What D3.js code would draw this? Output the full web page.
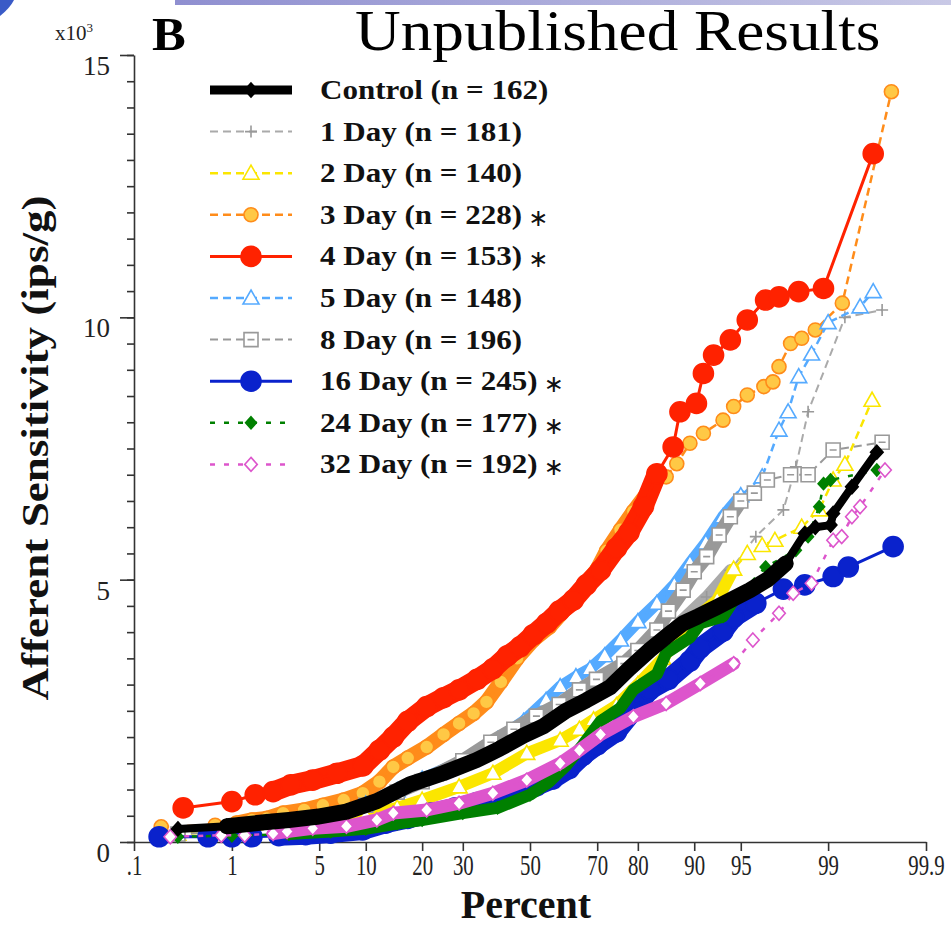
<!DOCTYPE html>
<html>
<head>
<meta charset="utf-8">
<script src="https://d3js.org/d3.v7.min.js"></script>
<style>
  body { margin: 0; background: #fff; }
  svg { display: block; }
</style>
</head>
<body>
<div id="chart"></div>
<script>
// percentile (%) , afferent sensitivity (x10^3 ips/g)
const control = [[0.3,0.25],[0.9,0.3],[2,0.38],[3,0.42],[4.8,0.48],[7.6,0.58],[11.6,0.78],[17.4,1.1],[24.9,1.31],[33.8,1.56],[40.7,1.78],[48,2.03],[54,2.2],[61,2.5],[67,2.7],[73.4,2.95],[78,3.3],[82.5,3.66],[86,3.95],[88.4,4.17],[90.5,4.3],[92.8,4.48],[95.7,4.8],[96.8,5.0],[97.7,5.31],[98.4,5.88],[98.7,6.0],[99.05,6.04],[99.1,6.26],[99.4,6.77],[99.66,7.43]];
const day1 = [[0.3,0.2],[1,0.25],[3,0.35],[6,0.5],[10,0.7],[15,0.95],[20,1.15],[30,1.5],[40,1.85],[50,2.15],[60,2.5],[70,2.9],[78,3.35],[84,3.75],[88,4.2],[91.6,4.67],[94.1,5.18],[96.1,5.82],[97.6,6.33],[98.1,7.15],[98.5,8.2],[99.3,10.0],[99.7,10.14]];
const day2 = [[0.3,0.15],[1,0.2],[3,0.28],[6,0.4],[10,0.5],[15,0.65],[20,0.8],[29,1.05],[38.6,1.31],[49,1.69],[59.3,1.94],[65,2.15],[69,2.33],[75,2.6],[80,3.0],[85,3.5],[89.4,4.17],[92.8,4.61],[94.4,5.2],[95.5,5.5],[96.5,5.65],[97.2,5.75],[98.3,6.0],[98.8,6.33],[99.1,6.9],[99.3,7.2],[99.62,8.42]];
const day3 = [[0.2,0.29],[0.7,0.32],[1.1,0.36],[1.5,0.42],[2.0,0.45],[2.7,0.55],[3.9,0.61],[5.3,0.7],[7.3,0.8],[9.6,0.93],[12,1.15],[14.3,1.43],[17,1.6],[21,1.81],[25,2.05],[29,2.26],[33,2.45],[36.7,2.67],[41,3.05],[46,3.5],[51,3.85],[56,4.1],[61,4.45],[66,4.85],[70,5.2],[72.5,5.55],[76,5.95],[79,6.3],[82,6.65],[85.6,6.96],[87.4,7.21],[89.4,7.6],[91.2,7.79],[93.4,8.04],[94.4,8.3],[95.5,8.52],[96.6,8.68],[97.1,8.77],[97.4,9.06],[97.9,9.5],[98.3,9.6],[98.7,9.76],[99.26,10.27],[99.76,14.3]];
const day4 = [[0.34,0.65],[1.0,0.77],[1.6,0.9],[2.25,0.96],[3.1,1.09],[4.5,1.18],[6.6,1.31],[9.6,1.45],[12,1.75],[14.3,2.0],[17,2.3],[21,2.58],[25,2.75],[29,2.9],[34,3.1],[38.6,3.3],[43,3.55],[46.9,3.72],[51,3.95],[55.2,4.17],[59,4.4],[63.2,4.61],[67,4.9],[70.9,5.18],[75,5.6],[78,5.9],[81.2,6.39],[83.9,7.02],[86.8,7.53],[87.9,8.2],[90.3,8.36],[91.2,8.93],[92.4,9.28],[94.1,9.57],[95.5,9.95],[96.7,10.33],[97.4,10.39],[98.2,10.49],[98.9,10.55],[99.63,13.12]];
const day5 = [[0.3,0.2],[1,0.25],[3,0.35],[6,0.5],[10,0.72],[15,0.98],[20,1.2],[32,1.6],[40,1.95],[48,2.3],[55,2.7],[59.3,2.96],[64,3.15],[68,3.3],[72,3.55],[76,3.85],[80,4.2],[83.9,4.55],[87,4.9],[89.4,5.31],[91.5,5.7],[93.4,6.2],[95,6.6],[96.5,6.96],[97.4,7.85],[97.8,8.2],[98.2,8.87],[98.6,9.3],[99.0,9.9],[99.5,10.2],[99.63,10.49]];
const day8 = [[0.3,0.15],[1,0.2],[3,0.3],[6,0.5],[10,0.7],[15,0.95],[20,1.15],[30,1.55],[38,1.9],[45,2.15],[52,2.4],[59,2.62],[65,2.9],[69.8,3.1],[76.8,3.4],[80,3.65],[83.9,4.04],[86,4.4],[88.4,4.8],[90,5.15],[91.6,5.44],[93,5.85],[94.1,6.2],[95,6.5],[96,6.65],[96.8,6.9],[97.9,7.0],[98.5,7.0],[99.1,7.47],[99.7,7.62]];
const day16 = [[0.19,0.1],[0.6,0.1],[1.0,0.1],[1.5,0.1],[2.5,0.12],[4,0.14],[6,0.17],[9.6,0.23],[13,0.36],[17,0.45],[22,0.55],[28,0.65],[34,0.75],[40,0.85],[46,0.95],[52,1.07],[57,1.2],[62,1.4],[66,1.65],[70,1.85],[75,2.1],[79,2.5],[82.5,2.9],[86,3.1],[89.4,3.45],[90.8,3.7],[93.4,4.02],[94.4,4.28],[96.1,4.55],[97.6,4.82],[98.4,4.9],[99.1,5.06],[99.35,5.24],[99.77,5.63]];
const day24 = [[0.3,0.1],[1,0.12],[3,0.15],[6,0.2],[10,0.25],[15,0.35],[20,0.42],[30,0.55],[40,0.65],[50,0.9],[56,1.15],[61,1.45],[66,1.85],[70.9,2.3],[75.9,2.55],[79,2.9],[83.9,3.2],[85.6,3.6],[89.4,3.9],[90.8,4.17],[93.4,4.3],[94.4,4.61],[96.7,5.24],[98.1,5.56],[98.5,5.82],[98.8,6.39],[98.9,6.83],[99.05,6.9],[99.66,7.09]];
const day32 = [[0.25,0.1],[0.8,0.13],[1.3,0.13],[2.25,0.16],[2.9,0.2],[4.5,0.26],[7.6,0.3],[11.6,0.42],[14.3,0.55],[21,0.61],[29,0.74],[38.6,0.93],[49,1.18],[59.3,1.5],[65,1.75],[70.9,2.05],[79,2.39],[85.6,2.64],[90.8,3.02],[94.4,3.4],[95.9,3.85],[97.4,4.36],[98,4.74],[98.6,4.93],[99.1,5.75],[99.25,5.82],[99.4,6.2],[99.5,6.39],[99.72,7.09]];

const seriesNames = ["Control (n = 162)","1 Day (n = 181)","2 Day (n = 140)","3 Day (n = 228)","4 Day (n = 153)","5 Day (n = 148)","8 Day (n = 196)","16 Day (n = 245)","24 Day (n = 177)","32 Day (n = 192)"];
const significant = [false,false,false,true,true,false,false,true,true,true];
const xTickPct = [0.1,1,5,10,20,30,50,70,80,90,95,99,99.9];
const xTickLabels = [".1","1","5","10","20","30","50","70","80","90","95","99","99.9"];
const yTickValues = [0,5,10,15];

// inverse normal cdf (Acklam) for the probability axis
function probit(p) {
  const a=[-3.969683028665376e+01,2.209460984245205e+02,-2.759285104469687e+02,1.383577518672690e+02,-3.066479806614716e+01,2.506628277459239e+00];
  const b=[-5.447609879822406e+01,1.615858368580409e+02,-1.556989798598866e+02,6.680131188771972e+01,-1.328068155288572e+01];
  const c=[-7.784894002430293e-03,-3.223964580411365e-01,-2.400758277161838e+00,-2.549671299039825e+00,4.374664141464968e+00,2.938163982698783e+00];
  const d=[7.784695709041462e-03,3.224671290700398e-01,2.445134137142996e+00,3.754408661907416e+00];
  const pl = 0.02425;
  if (p < pl) {
    const q = Math.sqrt(-2*Math.log(p));
    return (((((c[0]*q+c[1])*q+c[2])*q+c[3])*q+c[4])*q+c[5])/((((d[0]*q+d[1])*q+d[2])*q+d[3])*q+1);
  }
  if (p > 1-pl) {
    const q = Math.sqrt(-2*Math.log(1-p));
    return -(((((c[0]*q+c[1])*q+c[2])*q+c[3])*q+c[4])*q+c[5])/((((d[0]*q+d[1])*q+d[2])*q+d[3])*q+1);
  }
  const q = p-0.5, r = q*q;
  return (((((a[0]*r+a[1])*r+a[2])*r+a[3])*r+a[4])*r+a[5])*q/(((((b[0]*r+b[1])*r+b[2])*r+b[3])*r+b[4])*r+1);
}

const width = 951, height = 928;
const serif = "'Liberation Serif','Times New Roman',serif";

const svg = d3.select("#chart").append("svg")
  .attr("width", width).attr("height", height);

// top strip + corner of the slide
const grad = svg.append("defs").append("linearGradient").attr("id","strip");
grad.append("stop").attr("offset","0%").attr("stop-color","#8f8fd0");
grad.append("stop").attr("offset","100%").attr("stop-color","#c9c9e6");
svg.append("rect").attr("x",175).attr("y",0).attr("width",776).attr("height",5).attr("fill","url(#strip)");
svg.append("path").attr("d","M0,0H14Q10,8 0,16Z").attr("fill","#3a5bc7");

const x = d3.scaleLinear().domain([probit(0.001), probit(0.999)]).range([134, 926]);
const y = d3.scaleLinear().domain([0, 15]).range([842, 55]);
const px = p => x(probit(p/100));

// axes
const axisColor = "#333";
const gx = svg.append("g").attr("transform","translate(0,842)")
  .call(d3.axisBottom(x)
    .tickValues(xTickPct.map(p => probit(p/100)))
    .tickFormat((d,i) => xTickLabels[i])
    .tickSize(9).tickSizeOuter(0).tickPadding(5));
gx.selectAll("text").attr("font-family", serif).attr("font-size", 26).attr("fill","#222")
  .attr("transform","scale(0.8,1.15)").attr("y", 10);

const gyMinor = svg.append("g").attr("transform","translate(134,0)")
  .call(d3.axisLeft(y).tickValues(d3.range(0, 15.01, 0.5)).tickSize(7).tickFormat(""));
gyMinor.select(".domain").remove();
const gy = svg.append("g").attr("transform","translate(134,0)")
  .call(d3.axisLeft(y).tickValues(yTickValues).tickSize(14).tickSizeOuter(0).tickPadding(10).tickFormat(d3.format("d")));
gy.selectAll("text").attr("font-family", serif).attr("font-size", 27).attr("fill","#222").attr("dy","0.72em");
svg.selectAll(".domain, .tick line").attr("stroke", axisColor).attr("stroke-width", 1.6);

// series styling
const styles = [
  {data: control, color:"#000",    lw:8,   dash:null,  mk:"diamond",  ms:7,  fill:"#000",    mstroke:"#000",    band:16, bandRange:[0.5,98]},
  {data: day1,    color:"#aaaaaa", lw:2,   dash:"8,5", mk:"plus",     ms:6,  fill:"none",    mstroke:"#999",    band:12, bandRange:[2,95]},
  {data: day2,    color:"#fbe600", lw:2.5, dash:"8,5", mk:"triangle", ms:8,  fill:"#fff",    mstroke:"#fbe600", band:12, bandRange:[2,95]},
  {data: day3,    color:"#ff8c1a", lw:2.5, dash:"8,5", mk:"circle",   ms:7,  fill:"#ffc845", mstroke:"#ff8c1a", band:15, bandRange:[1,84]},
  {data: day4,    color:"#ff2200", lw:3,   dash:null,  mk:"circle",   ms:10, fill:"#ff2200", mstroke:"#ff2200", band:20, bandRange:[2,86]},
  {data: day5,    color:"#55aaff", lw:2.5, dash:"8,5", mk:"triangle", ms:8,  fill:"#fff",    mstroke:"#55aaff", band:12, bandRange:[2,95]},
  {data: day8,    color:"#999999", lw:2,   dash:"8,5", mk:"square",   ms:7,  fill:"#fff",    mstroke:"#999",    band:14, bandRange:[2,95]},
  {data: day16,   color:"#0a22cc", lw:3,   dash:null,  mk:"circle",   ms:10, fill:"#0a22cc", mstroke:"#0a22cc", band:20, bandRange:[2,97]},
  {data: day24,   color:"#008000", lw:2.5, dash:"5,9", mk:"diamond",  ms:6,  fill:"#008000", mstroke:"#008000", band:12, bandRange:[2,96]},
  {data: day32,   color:"#dd55cc", lw:2.5, dash:"5,9", mk:"diamond",  ms:7,  fill:"#fff",    mstroke:"#dd55cc", band:13, bandRange:[2,95]}
];

function shape(type, s) {
  if (type === "diamond") return `M0,${-s}L${s*0.9},0L0,${s}L${-s*0.9},0Z`;
  if (type === "triangle") return `M0,${-s}L${s},${s*0.75}L${-s},${s*0.75}Z`;
  if (type === "square") return `M${-s},${-s}H${s}V${s}H${-s}ZM${-s*0.5},0H${s*0.5}`;
  if (type === "plus") return `M${-s},0H${s}M0,${-s}V${s}`;
  return d3.symbol(d3.symbolCircle, Math.PI*s*s)();
}

const line = d3.line().x(d => px(d[0])).y(d => y(d[1]));
const plot = svg.append("g");

function drawSeries(st) {
  const g = plot.append("g");
  const dense = st.data.filter(d => d[0] >= st.bandRange[0] && d[0] <= st.bandRange[1]);
  g.append("path").datum(dense).attr("d", line)
    .attr("fill","none").attr("stroke", st.color).attr("stroke-width", st.band)
    .attr("stroke-linejoin","round").attr("stroke-linecap","round");
  g.append("path").datum(st.data).attr("d", line)
    .attr("fill","none").attr("stroke", st.color).attr("stroke-width", st.lw)
    .attr("stroke-dasharray", st.dash).attr("stroke-linejoin","round");
  g.selectAll("path.mk").data(st.data).join("path").attr("class","mk")
    .attr("transform", d => `translate(${px(d[0])},${y(d[1])})`)
    .attr("d", shape(st.mk, st.ms))
    .attr("fill", st.fill).attr("stroke", st.mstroke).attr("stroke-width", 1.6);
}
// control drawn last, it sits on top of the others
styles.slice(1).forEach(drawSeries);
drawSeries(styles[0]);

// legend
const legend = svg.append("g");
seriesNames.forEach((name, i) => {
  const st = styles[i];
  const ly = 90 + i*41.6;
  legend.append("line").attr("x1",210).attr("x2",292).attr("y1",ly).attr("y2",ly)
    .attr("stroke", st.color).attr("stroke-width", i === 0 ? 9 : st.lw).attr("stroke-dasharray", st.dash);
  legend.append("path").attr("transform",`translate(251,${ly})`).attr("d", shape(st.mk, st.ms))
    .attr("fill", st.fill).attr("stroke", st.mstroke).attr("stroke-width", 1.6);
  const t = legend.append("text").attr("transform",`translate(320,${ly + 9}) scale(1.15,1)`)
    .attr("font-family", serif).attr("font-weight","bold").attr("font-size",27).attr("fill","#111")
    .text(name);
  if (significant[i]) {
    const w = t.node().getComputedTextLength()*1.15;
    legend.append("text").attr("x", 320 + w + 6).attr("y", ly + 11)
      .attr("font-family","'DejaVu Sans',sans-serif").attr("font-size",24).attr("fill","#111").text("\u2217");
  }
});

// titles
svg.append("text").attr("transform","translate(355,50) scale(1.11,1)")
  .attr("font-family", serif).attr("font-size",57).attr("fill","#000").text("Unpublished Results");
svg.append("text").attr("transform","translate(152,50) scale(1.1,1)")
  .attr("font-family", serif).attr("font-weight","bold").attr("font-size",46).attr("fill","#000").text("B");
const sci = svg.append("text").attr("x",55).attr("y",40).attr("font-family", serif).attr("font-size",21).attr("fill","#222");
sci.append("tspan").text("x10");
sci.append("tspan").attr("dy",-8).attr("font-size",13).text("3");

svg.append("text").attr("x",526).attr("y",918).attr("text-anchor","middle")
  .attr("font-family", serif).attr("font-weight","bold").attr("font-size",40).attr("fill","#111").text("Percent");
svg.append("text").attr("transform","translate(48,448) rotate(-90)").attr("text-anchor","middle")
  .attr("font-family", serif).attr("font-weight","bold").attr("font-size",38).attr("fill","#111")
  .attr("textLength",505).attr("lengthAdjust","spacingAndGlyphs")
  .text("Afferent Sensitivity (ips/g)");
</script>
</body>
</html>
